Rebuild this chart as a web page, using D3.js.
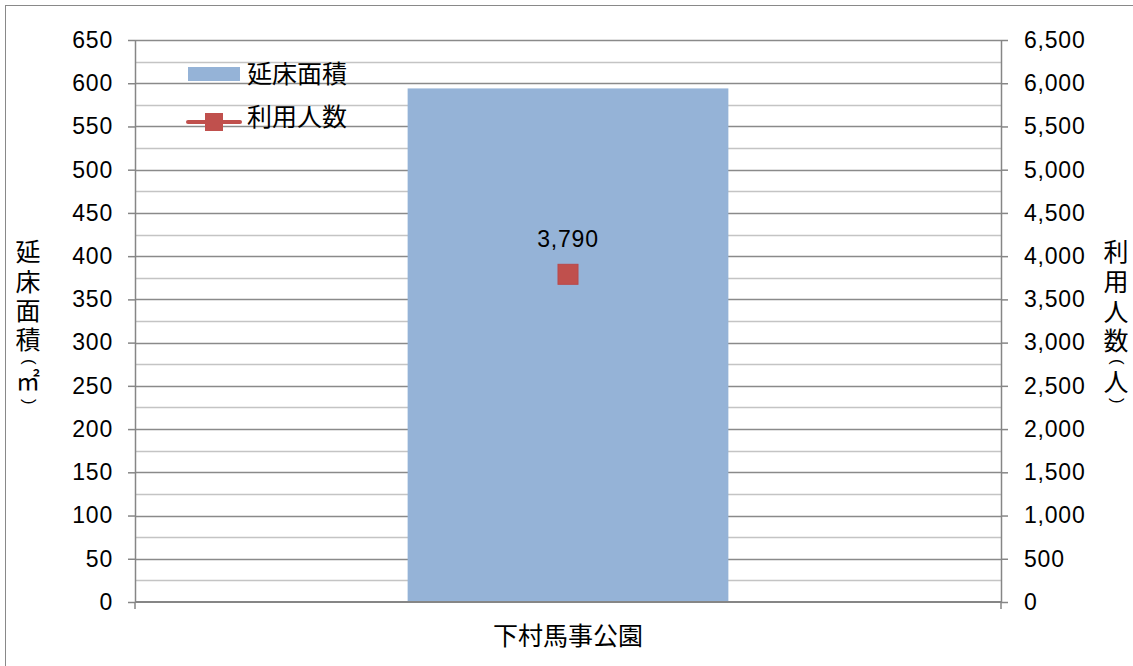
<!DOCTYPE html>
<html lang="ja">
<head>
<meta charset="utf-8">
<title>延床面積と利用人数</title>
<script src="https://d3js.org/d3.v7.min.js"></script>
<style>
  body { margin: 0; background: #fff; }
  text { font-family: "Liberation Sans", Arial, sans-serif; fill: #000; }
  .cjk { font-family: "Noto Sans CJK JP", "Noto Sans", sans-serif; }
</style>
</head>
<body>
<script>
// data
const categories = ["下村馬事公園"];
const floorArea = [594];      // 延床面積 (㎡)
const visitors = [3790];      // 利用人数 (人)
const leftTicks = [0, 50, 100, 150, 200, 250, 300, 350, 400, 450, 500, 550, 600, 650];
const rightTicks = [0, 500, 1000, 1500, 2000, 2500, 3000, 3500, 4000, 4500, 5000, 5500, 6000, 6500];
const seriesNames = ["延床面積", "利用人数"];
const leftTitle = ["延", "床", "面", "積", "(", "㎡", ")"];
const rightTitle = ["利", "用", "人", "数", "(", "人", ")"];

const width = 1133, height = 666;
const margin = { top: 40, right: 132, bottom: 64, left: 135 };

const svg = d3.select("body").append("svg")
    .attr("width", width)
    .attr("height", height);

// outer frame
svg.append("rect")
    .attr("x", 5.5).attr("y", 5.5)
    .attr("width", width).attr("height", height)
    .attr("fill", "#fff")
    .attr("stroke", "#898989");

const x = d3.scaleBand()
    .domain(categories)
    .range([margin.left, width - margin.right])
    .paddingInner(1.7 / 2.7)
    .paddingOuter(1.7 / 2.7 / 2);

const y = d3.scaleLinear().domain([0, 650]).range([height - margin.bottom, margin.top]);
const y2 = d3.scaleLinear().domain([0, 6500]).range([height - margin.bottom, margin.top]);

const x0 = margin.left, x1 = width - margin.right;

// minor grid lines (every 25)
const minor = d3.range(25, 650, 50);
svg.append("g").selectAll("line")
    .data(minor)
    .join("line")
    .attr("x1", x0).attr("x2", x1)
    .attr("y1", d => Math.round(y(d)) + 0.5)
    .attr("y2", d => Math.round(y(d)) + 0.5)
    .attr("stroke", "#c4c4c4")
    .attr("stroke-width", 1.5);

// major grid lines
svg.append("g").selectAll("line")
    .data(leftTicks.slice(1))
    .join("line")
    .attr("x1", x0).attr("x2", x1)
    .attr("y1", d => Math.round(y(d)) + 0.5)
    .attr("y2", d => Math.round(y(d)) + 0.5)
    .attr("stroke", "#8a8a8a")
    .attr("stroke-width", 1.5);

// bars
svg.append("g").selectAll("rect")
    .data(floorArea)
    .join("rect")
    .attr("x", (d, i) => x(categories[i]))
    .attr("width", x.bandwidth())
    .attr("y", d => y(d))
    .attr("height", d => y(0) - y(d))
    .attr("fill", "#95b3d7");

// axes
const axisColor = "#868686";
function styleAxis(g) {
  g.selectAll("path.domain").attr("stroke", axisColor).attr("stroke-width", 1.5);
  g.selectAll(".tick line").attr("stroke", axisColor).attr("stroke-width", 1.5);
  g.selectAll("text")
    .attr("font-family", "'Liberation Sans', Arial, sans-serif")
    .attr("font-size", 23)
    .attr("letter-spacing", 0.8)
    .attr("fill", "#000");
}

svg.append("g")
    .attr("transform", `translate(${x0},0)`)
    .call(d3.axisLeft(y).tickValues(leftTicks).tickSize(7).tickSizeOuter(0).tickPadding(15))
    .call(styleAxis);

svg.append("g")
    .attr("transform", `translate(${x1},0)`)
    .call(d3.axisRight(y2).tickValues(rightTicks).tickSize(7).tickSizeOuter(0).tickPadding(16)
      .tickFormat(d3.format(",")))
    .call(styleAxis);

// bottom axis: ticks at category boundaries
const bottom = svg.append("g");
bottom.append("line")
    .attr("x1", x0).attr("x2", x1)
    .attr("y1", y(0)).attr("y2", y(0))
    .attr("stroke", axisColor).attr("stroke-width", 2);
bottom.selectAll("line.bt")
    .data([x0, x1])
    .join("line")
    .attr("class", "bt")
    .attr("x1", d => d).attr("x2", d => d)
    .attr("y1", y(0)).attr("y2", y(0) + 7)
    .attr("stroke", axisColor).attr("stroke-width", 1.5);
bottom.selectAll("text")
    .data(categories)
    .join("text")
    .attr("class", "cjk")
    .attr("x", d => x(d) + x.bandwidth() / 2)
    .attr("y", y(0) + 43)
    .attr("text-anchor", "middle")
    .attr("font-size", 25)
    .text(d => d);

// line series markers
svg.append("g").selectAll("rect")
    .data(visitors)
    .join("rect")
    .attr("x", (d, i) => x(categories[i]) + x.bandwidth() / 2 - 10)
    .attr("y", d => y2(d) - 10)
    .attr("width", 20).attr("height", 20)
    .attr("fill", "#c0504d")
    .attr("stroke", "#b9484a");

// data labels
svg.append("g").selectAll("text")
    .data(visitors)
    .join("text")
    .attr("x", (d, i) => x(categories[i]) + x.bandwidth() / 2)
    .attr("y", d => y2(d) - 27)
    .attr("text-anchor", "middle")
    .attr("font-size", 23)
    .attr("letter-spacing", 0.8)
    .text(d => d3.format(",")(d));

// legend
const legend = svg.append("g");
legend.append("rect")
    .attr("x", 188).attr("y", 67).attr("width", 52).attr("height", 14)
    .attr("fill", "#95b3d7");
legend.append("line")
    .attr("x1", 188).attr("x2", 240).attr("y1", 122).attr("y2", 122)
    .attr("stroke", "#c0504d").attr("stroke-width", 4).attr("stroke-linecap", "round");
legend.append("rect")
    .attr("x", 205).attr("y", 113).attr("width", 18).attr("height", 18)
    .attr("fill", "#c0504d");
legend.selectAll("text")
    .data(seriesNames)
    .join("text")
    .attr("class", "cjk")
    .attr("x", 247)
    .attr("y", (d, i) => 83 + i * 43)
    .attr("font-size", 25)
    .text(d => d);

// vertical axis titles: one text, one tspan per glyph, brackets turned sideways
function verticalTitle(chars, cx, centers) {
  const t = svg.append("text");
  chars.forEach((c, i) => {
    const isParen = c === "(" || c === ")";
    const fs = isParen ? 17 : (c === "㎡" ? 24 : 25);
    const sp = t.append("tspan")
      .attr("font-size", fs)
      .text(c);
    if (isParen) {
      sp.attr("font-family", "'Liberation Sans', Arial, sans-serif")
        .attr("rotate", 90)
        .attr("x", cx - 0.26 * fs)
        .attr("y", centers[i] - 0.17 * fs);
    } else {
      sp.attr("font-family", "'Noto Sans CJK JP', sans-serif")
        .attr("x", cx - fs / 2)
        .attr("y", centers[i] + 0.36 * fs);
    }
  });
}
verticalTitle(leftTitle, 28, [252, 282, 311, 340, 362, 381, 402]);
verticalTitle(rightTitle, 1116, [252, 282, 312, 341, 362, 382, 401]);
</script>
</body>
</html>
